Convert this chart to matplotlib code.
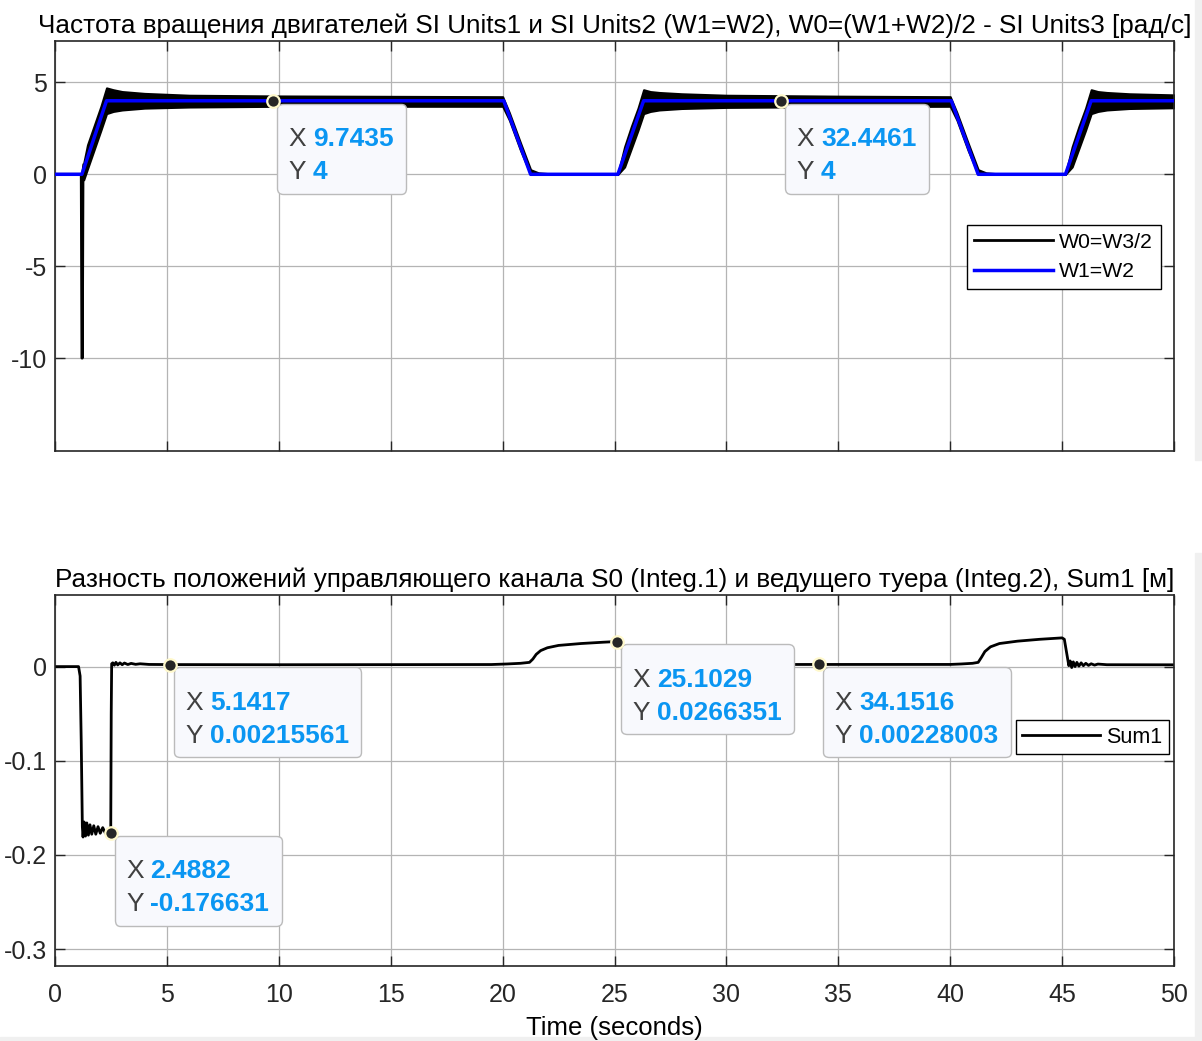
import matplotlib.pyplot as plt
from matplotlib.offsetbox import TextArea, HPacker, VPacker, AnnotationBbox, DrawingArea
from matplotlib.patches import Rectangle

plt.rcParams['font.family'] = ['Liberation Sans', 'DejaVu Sans']
plt.rcParams['axes.unicode_minus'] = False

# ---- data ----
x_ticks = [0, 5, 10, 15, 20, 25, 30, 35, 40, 45, 50]
top_yticks = [5, 0, -5, -10]
bot_yticks = [0, -0.1, -0.2, -0.3]

# W1=W2 (blue)
w12_t = [0, 1.2, 2.3, 20.05, 21.25, 25.15, 26.3, 40.05, 41.25, 45.15, 46.3, 50]
w12_v = [0, 0, 4, 4, 0, 0, 4, 4, 0, 0, 4, 4]

# W0 (black) - start + spike
w0_t = [0, 1.17, 1.2, 1.22, 1.25, 1.28]
w0_v = [0, 0, -10, -10, 0.2, 0.5]

# W0 oscillation band (envelope)
band_t = [0.0, 1.2, 1.28, 1.45, 1.65, 1.85, 2.05, 2.3, 2.6, 3.0, 4.0, 6.0, 10.0, 15.0, 20.0,
          20.3, 20.8, 21.25, 21.6, 22.2, 25.15, 25.45, 25.75, 26.05, 26.3, 26.6, 27.0,
          28.0, 30.0, 35.0, 40.0, 40.3, 40.8, 41.25, 41.6, 42.2, 45.15, 45.45, 45.75,
          46.05, 46.3, 46.6, 47.0, 48.0, 50.0]
band_hi = [0, 0, 0.6, 1.6, 2.3, 3.0, 3.7, 4.7, 4.6, 4.5, 4.4, 4.3, 4.26, 4.24, 4.22,
           3.35, 1.7, 0.25, 0.08, 0.02, 0.02, 1.5, 2.6, 3.6, 4.6, 4.5, 4.45,
           4.38, 4.3, 4.25, 4.22, 3.35, 1.7, 0.25, 0.08, 0.02, 0.02, 1.5, 2.6,
           3.6, 4.6, 4.5, 4.45, 4.38, 4.32]
band_lo = [0, 0, -0.3, 0.3, 1.0, 1.7, 2.4, 3.3, 3.42, 3.5, 3.6, 3.66, 3.7, 3.7, 3.7,
           2.95, 1.3, 0.0, 0.0, 0.0, 0.0, 0.4, 1.4, 2.4, 3.3, 3.42, 3.5,
           3.58, 3.64, 3.68, 3.7, 2.95, 1.3, 0.0, 0.0, 0.0, 0.0, 0.4, 1.4,
           2.4, 3.3, 3.42, 3.5, 3.58, 3.62]

# Sum1
sum1_t = [0, 1.05, 1.12, 1.17, 1.22, 1.25, 1.30, 1.36, 1.42, 1.49, 1.56, 1.64, 1.73,
          1.82, 1.92, 2.02, 2.13, 2.25, 2.36, 2.4882, 2.51, 2.53, 2.58, 2.65, 2.72,
          2.8, 2.9, 3.0, 3.1, 3.25, 3.4, 3.6, 3.8, 4.2, 5.1417, 10, 15, 19.5, 20.2,
          20.8, 21.2, 21.35, 21.5, 21.7, 22.0, 22.5, 23.5, 24.5, 25.1029, 25.3, 25.45,
          25.5, 25.56, 25.62, 25.68, 25.75, 25.83, 25.9, 26.0, 26.1, 26.2, 26.32,
          26.45, 26.6, 27.0, 30.0, 34.1516, 40.0, 40.5, 41.0, 41.25, 41.4, 41.55, 41.8,
          42.2, 43.0, 44.0, 45.0, 45.1, 45.3, 45.36, 45.43, 45.5, 45.58, 45.66, 45.75,
          45.85, 45.95, 46.06, 46.18, 46.3, 46.45, 46.6, 47.0, 50.0]
sum1_v = [0, 0, -0.01, -0.08, -0.17, -0.181, -0.165, -0.18, -0.166, -0.179, -0.168,
          -0.178, -0.169, -0.178, -0.170, -0.177, -0.171, -0.177, -0.173, -0.176631,
          -0.05, 0.003, 0.004, 0.0015, 0.0045, 0.0018, 0.004, 0.002, 0.0038, 0.0022,
          0.0034, 0.0024, 0.003, 0.0023, 0.00215561, 0.002, 0.0021, 0.0022, 0.0028,
          0.0035, 0.0045, 0.008, 0.013, 0.017, 0.02, 0.0225, 0.0245, 0.0259, 0.0266351,
          0.026, 0.001, 0.006, -0.001, 0.005, 0.0, 0.0045, 0.0005, 0.004, 0.001, 0.0035,
          0.0013, 0.003, 0.0016, 0.0027, 0.002, 0.0022, 0.00228003, 0.0023, 0.0028,
          0.0035, 0.0045, 0.01, 0.016, 0.021, 0.0245, 0.027, 0.029, 0.0305, 0.029,
          0.001, 0.006, -0.001, 0.005, 0.0, 0.0045, 0.0005, 0.004, 0.001, 0.0035,
          0.0013, 0.003, 0.0016, 0.0027, 0.002, 0.0019]

# data tips: (x, y, x text, y text)
top_tips = [(9.7435, 4, '9.7435', '4'), (32.4461, 4, '32.4461', '4')]
bot_tips = [(5.1417, 0.00215561, '5.1417', '0.00215561'),
            (25.1029, 0.0266351, '25.1029', '0.0266351'),
            (34.1516, 0.00228003, '34.1516', '0.00228003'),
            (2.4882, -0.176631, '2.4882', '-0.176631')]

title_top = ('Частота вращения двигателей SI Units1 и SI Units2 (W1=W2), '
             'W0=(W1+W2)/2 - SI Units3 [рад/с]')
title_bot = ('Разность положений управляющего канала S0 (Integ.1) и ведущего '
             'туера (Integ.2), Sum1 [м]')

tip_blue = '#0A96F2'
dark = '#262626'


def style(ax):
    ax.set_xlim(0, 50)
    ax.set_xticks(x_ticks)
    ax.grid(True, color='#b4b4b4', lw=0.9)
    ax.set_axisbelow(True)
    ax.tick_params(direction='in', length=7, width=1, colors=dark, labelsize=18,
                   top=True, right=True)
    ax.tick_params(axis='x', pad=12)
    ax.tick_params(axis='y', pad=6)
    for s in ax.spines.values():
        s.set_color(dark)
        s.set_linewidth(1.2)


def datatip(ax, x, y, xs, ys):
    rows = []
    for lab, val in (('X', xs), ('Y', ys)):
        rows.append(HPacker(children=[
            TextArea(lab, textprops=dict(color='#404040', fontsize=19)),
            TextArea(val, textprops=dict(color=tip_blue, fontsize=19, fontweight='bold'))],
            sep=5, pad=0, align='baseline'))
    inner = VPacker(children=rows, sep=6.5, pad=0, align='left')
    mid = HPacker(children=[DrawingArea(8, 0), inner, DrawingArea(9, 0)], sep=0, pad=0)
    box = VPacker(children=[DrawingArea(0, 17), mid, DrawingArea(0, 6.8)], sep=0, pad=0,
                  align='left')
    ab = AnnotationBbox(box, (x, y), xybox=(3, -2), xycoords='data',
                        boxcoords='offset points', box_alignment=(0, 1), pad=0,
                        fontsize=10,
                        bboxprops=dict(boxstyle='round,pad=0,rounding_size=0.4',
                                       fc='#F8F9FD', ec='#BBBBBB', lw=1))
    ab.set_zorder(5)
    ax.add_artist(ab)
    ax.plot(x, y, 'o', ms=9, mfc=dark, mec='#FFF9CC', mew=1.6, zorder=6)


fig = plt.figure(figsize=(12.02, 10.41), dpi=100)
ax1 = fig.add_axes([0.0458, 0.5668, 0.9309, 0.3938])
ax2 = fig.add_axes([0.0458, 0.0720, 0.9309, 0.3564])

# ---- top ----
style(ax1)
ax1.set_ylim(-15.05, 7.25)
ax1.set_yticks(top_yticks)
ax1.tick_params(labelbottom=False)
ax1.fill_between(band_t, band_lo, band_hi, color='black', lw=1.5, zorder=2)
l0, = ax1.plot(w0_t, w0_v, color='black', lw=2, zorder=2, label='W0=W3/2')
l1, = ax1.plot(w12_t, w12_v, color='#0000FF', lw=2.5, zorder=3, label='W1=W2')
ax1.set_title(title_top, fontsize=18.8, pad=6)
leg = ax1.legend(handles=[l0, l1], loc='upper right', bbox_to_anchor=(0.988, 0.551),
                 borderaxespad=0, fontsize=15.3, handlelength=3.7, fancybox=False,
                 edgecolor='black', framealpha=1, borderpad=0.35, labelspacing=0.5,
                 handletextpad=0.3)
leg.get_frame().set_linewidth(1)
for t in top_tips:
    datatip(ax1, *t)

# ---- bottom ----
style(ax2)
ax2.set_ylim(-0.318, 0.076)
ax2.set_yticks(bot_yticks)
ax2.set_yticklabels(['0', '-0.1', '-0.2', '-0.3'])
l2, = ax2.plot(sum1_t, sum1_v, color='black', lw=2, zorder=2, label='Sum1')
ax2.set_title(title_bot, fontsize=18.8, pad=6)
ax2.set_xlabel('Time (seconds)', fontsize=18.5, labelpad=7)
leg2 = ax2.legend(handles=[l2], loc='upper right', bbox_to_anchor=(0.9955, 0.663),
                  borderaxespad=0, fontsize=15.5, handlelength=3.6, fancybox=False,
                  edgecolor='black', framealpha=1, borderpad=0.3, handletextpad=0.3)
leg2.get_frame().set_linewidth(1)
for t in bot_tips:
    datatip(ax2, *t)

# scope panel borders
W, H = 1202, 1041
for (x0, y0, w, h) in [(1195, 0, 7, 460), (1195, 553, 7, 488), (0, 1037, 1202, 4)]:
    fig.patches.append(Rectangle((x0 / W, 1 - (y0 + h) / H), w / W, h / H,
                                 transform=fig.transFigure, color='#F0F0F0', zorder=-1))

fig.savefig('out.png', dpi=100)
